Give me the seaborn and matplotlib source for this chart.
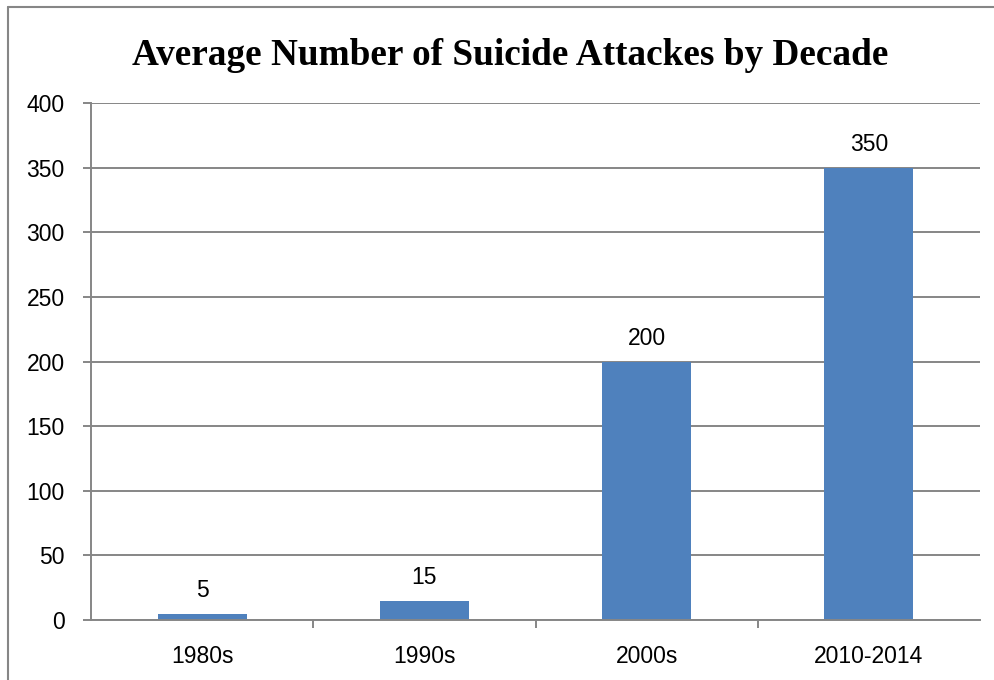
import matplotlib
matplotlib.use("Agg")
import matplotlib.pyplot as plt
import seaborn as sns
import pandas as pd
from matplotlib.lines import Line2D

sns.set_theme(style="white")

decades = ["1980s", "1990s", "2000s", "2010-2014"]
attacks = [5, 15, 200, 350]

df = pd.DataFrame({"decade": decades, "attacks": attacks})

fig = plt.figure(figsize=(9.95, 6.8), dpi=100)
ax = fig.add_axes([0.0915, 0.0882, 0.8935, 0.7603])

sns.barplot(data=df, x="decade", y="attacks", color="#4F81BD", saturation=1,
            width=0.4, linewidth=0, ax=ax)

ax.set_ylim(0, 400)
ax.set_yticks(range(0, 401, 50))
ax.set_xlim(-0.5, 3.5)
ax.yaxis.grid(True, color="#868686", linewidth=1.4)
ax.set_axisbelow(True)
for s in ["top", "right"]:
    ax.spines[s].set_visible(False)
for s in ["left", "bottom"]:
    ax.spines[s].set_color("#868686")
    ax.spines[s].set_linewidth(1.4)

ax.set_xlabel("")
ax.set_ylabel("")
ax.tick_params(axis="y", which="major", length=6, width=1.4, color="#868686",
               direction="out", left=True, labelsize=16.5, pad=13)
ax.tick_params(axis="x", which="major", bottom=False, labelsize=16.5, pad=12)
ax.set_xticks([0.5, 1.5, 2.5], minor=True)
ax.tick_params(axis="x", which="minor", bottom=True, length=6, width=1.4,
               color="#868686", direction="out")
ax.set_xticks([0, 1, 2, 3])
ax.set_xticklabels(decades)
for lab in ax.get_xticklabels() + ax.get_yticklabels():
    lab.set_fontfamily("Liberation Sans")
    lab.set_color("black")

# etiquetas de valor encima de cada barra
for i, v in enumerate(attacks):
    ax.annotate(str(v), (i, v), xytext=(0, 8.5), textcoords="offset points",
                ha="center", va="bottom", fontsize=16.5,
                family="Liberation Sans", color="black")

fig.text(0.513, 0.919, "Average Number of Suicide Attackes by Decade",
         ha="center", va="center", fontsize=26.8, fontweight="bold",
         family="Liberation Serif", color="black")

# borde exterior del grafico (solo arriba e izquierda visibles)
fig.add_artist(Line2D([8 / 995, 8 / 995], [0, 1 - 7 / 680], transform=fig.transFigure,
                      color="#868686", linewidth=1.5))
fig.add_artist(Line2D([8 / 995, 1], [1 - 7 / 680, 1 - 7 / 680], transform=fig.transFigure,
                      color="#868686", linewidth=1.5))

fig.savefig("out.png", dpi=100)
